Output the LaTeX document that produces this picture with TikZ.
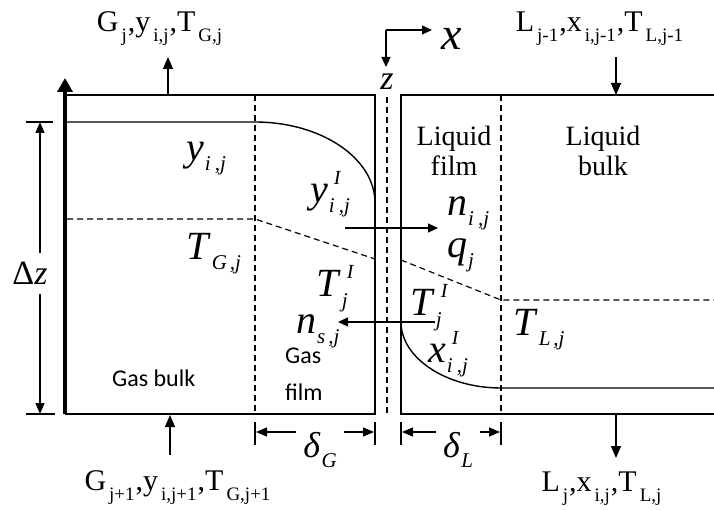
\documentclass[tikz,border=0pt]{standalone}
\usepackage{fontspec}
\setmainfont{Liberation Serif}
\newfontfamily\calib{Carlito}
\usetikzlibrary{arrows.meta}

% italic symbol with super- and subscript
\newcommand\sv[3]{\textit{#1}%
  \makebox[0pt][l]{\raisebox{18pt}{\fontsize{20}{20}\selectfont\kern6pt\textit{#2}}}%
  \raisebox{-10pt}{\fontsize{21}{21}\selectfont\kern1pt\textit{#3}}}
% upright stream symbol with subscript
\newcommand\ul[2]{#1\kern3pt\raisebox{-10pt}{\fontsize{19}{19}\selectfont #2}\kern1pt}

\begin{document}
\begin{tikzpicture}[
      x=1pt, y=-1pt,
      wall/.style = {line width=1.5pt},
      film/.style = {line width=1.2pt, dash pattern=on 6pt off 4pt},
      prof/.style = {line width=1.4pt},
      flow/.style = {-{Triangle[length=12pt,width=10pt]}, line width=1.3pt},
      flux/.style = {-{Triangle[length=10pt,width=9pt]}, line width=1.2pt},
      dim/.style  = {-{Triangle[length=11pt,width=9pt]}, line width=1.3pt},
      var/.style  = {inner sep=0pt, anchor=base west, font=\fontsize{40}{42}\selectfont},
      strm/.style = {inner sep=0pt, anchor=base, font=\fontsize{30}{32}\selectfont},
      reg/.style  = {inner sep=0pt, align=center, font=\fontsize{28}{30}\selectfont},
      sreg/.style = {inner sep=0pt, anchor=base west, font=\calib\fontsize{24}{26}\selectfont},
    ]
    \useasboundingbox (0,0) rectangle (714,510);

    %% ------------------------------------------------ gas side
    \draw[wall] (65,95) -- (375,95) -- (375,414) -- (65,414);
    \draw[line width=4.5pt, -{Triangle[length=14pt,width=15pt]}] (65,414) -- (65,78);
    \draw[film] (255,95) -- (255,414);
    \draw[prof] (67,122) -- (255,122) .. controls (321,122) and (375,158) .. (375,203);
    \draw[film] (67,219) -- (255,219) -- (375,259);

    %% ------------------------------------------------ liquid side
    \draw[wall] (716,95) -- (401,95) -- (401,414) -- (716,414);
    \draw[film] (501,95) -- (501,414);
    \draw[prof] (401,322) .. controls (401,358) and (446,388) .. (501,388) -- (716,388);
    \draw[film] (401,260) -- (501,300) -- (716,300);

    %% ------------------------------------------------ interface and axes
    \draw[line width=1.5pt, dash pattern=on 6pt off 4pt] (387,97) -- (387,416);
    \coordinate (O) at (386,30);
    \coordinate (ax) at (432,30);
    \coordinate (az) at (386,67);
    \draw[flux] (O) -- (ax);
    \draw[flux] (O) -- (az);
    \node[inner sep=0pt, anchor=base west, font=\fontsize{46}{46}\selectfont] (xl) at (441,50) {\textit{x}};
    \node[inner sep=0pt, anchor=base, font=\fontsize{34}{34}\selectfont] (zl) at (387,90) {\textit{z}};

    %% ------------------------------------------------ streams
    \coordinate (gt) at (168,95);  \coordinate (gtE) at (168,57);
    \coordinate (gb) at (170,415); \coordinate (gbS) at (170,455);
    \coordinate (lt) at (616,95);  \coordinate (ltS) at (616,57);
    \coordinate (lb) at (616,414); \coordinate (lbE) at (616,458);
    \draw[flow] (gt) -- (gtE);
    \draw[flow] (gbS) -- (gb);
    \draw[flow] (ltS) -- (lt);
    \draw[flow] (lb) -- (lbE);
    \node[strm] (Gout) at (160,32) {\ul{G}{j},\ul{y}{i,j},\ul{T}{G,j}};
    \node[strm] (Gin)  at (178,490) {\ul{G}{j+1},\ul{y}{i,j+1},\ul{T}{G,j+1}};
    \node[strm] (Lin)  at (600,32) {\ul{L}{j-1},\ul{x}{i,j-1},\ul{T}{L,j-1}};
    \node[strm] (Lout) at (602,491) {\ul{L}{j},\ul{x}{i,j},\ul{T}{L,j}};

    %% ------------------------------------------------ profiles
    \node[var] (ybulk) at (186,161) {\sv{y}{}{i\kern4pt,j}};
    \node[var] (TG)    at (186,260) {\sv{T}{}{G\kern3pt,j}};
    \node[var] (yI)    at (310,203) {\sv{y}{I}{i\kern4pt,j}};
    \node[var] (TIg)   at (316,297) {\sv{T}{I}{j}};
    \node[var] (nsj)   at (296,333) {\sv{n}{}{s\kern3pt,j}};
    \node[var] (nij)   at (447,216) {\sv{n}{}{i\kern4pt,j}};
    \node[var] (qj)    at (447,258) {\sv{q}{}{j}};
    \node[var] (TIl)   at (410,316) {\sv{T}{I}{j}};
    \node[var] (xI)    at (428,362) {\sv{x}{I}{i\kern4pt,j}};
    \node[var] (TL)    at (513,335) {\sv{T}{}{L\kern3pt,j}};

    %% ------------------------------------------------ fluxes
    \coordinate (fa) at (345,228); \coordinate (fb) at (438,228);
    \coordinate (fc) at (435,322); \coordinate (fd) at (338,322);
    \draw[flux] (fa) -- (fb);
    \draw[flux] (fc) -- (fd);

    %% ------------------------------------------------ regions
    \node[reg] (lfilm) at (454,151) {Liquid\\film};
    \node[reg] (lbulk) at (603,151) {Liquid\\bulk};
    \node[sreg] (gbulk) at (112,386) {Gas bulk};
    \node[sreg] (gfilm1) at (285,363) {Gas};
    \node[sreg] (gfilm2) at (285,400) {film};

    %% ------------------------------------------------ dimensions
    \draw[wall] (26,122) -- (53,122);
    \draw[wall] (26,414) -- (55,414);
    \node[inner xsep=0pt, inner ysep=9pt, anchor=base, font=\fontsize{34}{34}\selectfont]
      (dz) at (30,285) {Δ\textit{z}};
    \coordinate (dzt) at (40,122); \coordinate (dzb) at (40,414);
    \draw[dim] (dzt |- dz.north) -- (dzt);
    \draw[dim] (dzb |- dz.south) -- (dzb);

    \foreach \xx in {255,375,401,501}
      \draw[wall] (\xx,422) -- (\xx,445);
    \node[inner xsep=7pt, inner ysep=0pt, anchor=base, font=\fontsize{36}{36}\selectfont]
      (dG) at (320,457) {\sv{δ}{}{G}};
    \node[inner xsep=7pt, inner ysep=0pt, anchor=base, font=\fontsize{36}{36}\selectfont]
      (dL) at (458,457) {\sv{δ}{}{L}};
    \coordinate (dGl) at (256,432); \coordinate (dGr) at (374,432);
    \coordinate (dLl) at (402,432); \coordinate (dLr) at (500,432);
    \draw[dim] (dG.west |- dGl) -- (dGl);
    \draw[dim] (dG.east |- dGr) -- (dGr);
    \draw[dim] (dL.west |- dLl) -- (dLl);
    \draw[dim] (dL.east |- dLr) -- (dLr);
  \end{tikzpicture}
\end{document}
